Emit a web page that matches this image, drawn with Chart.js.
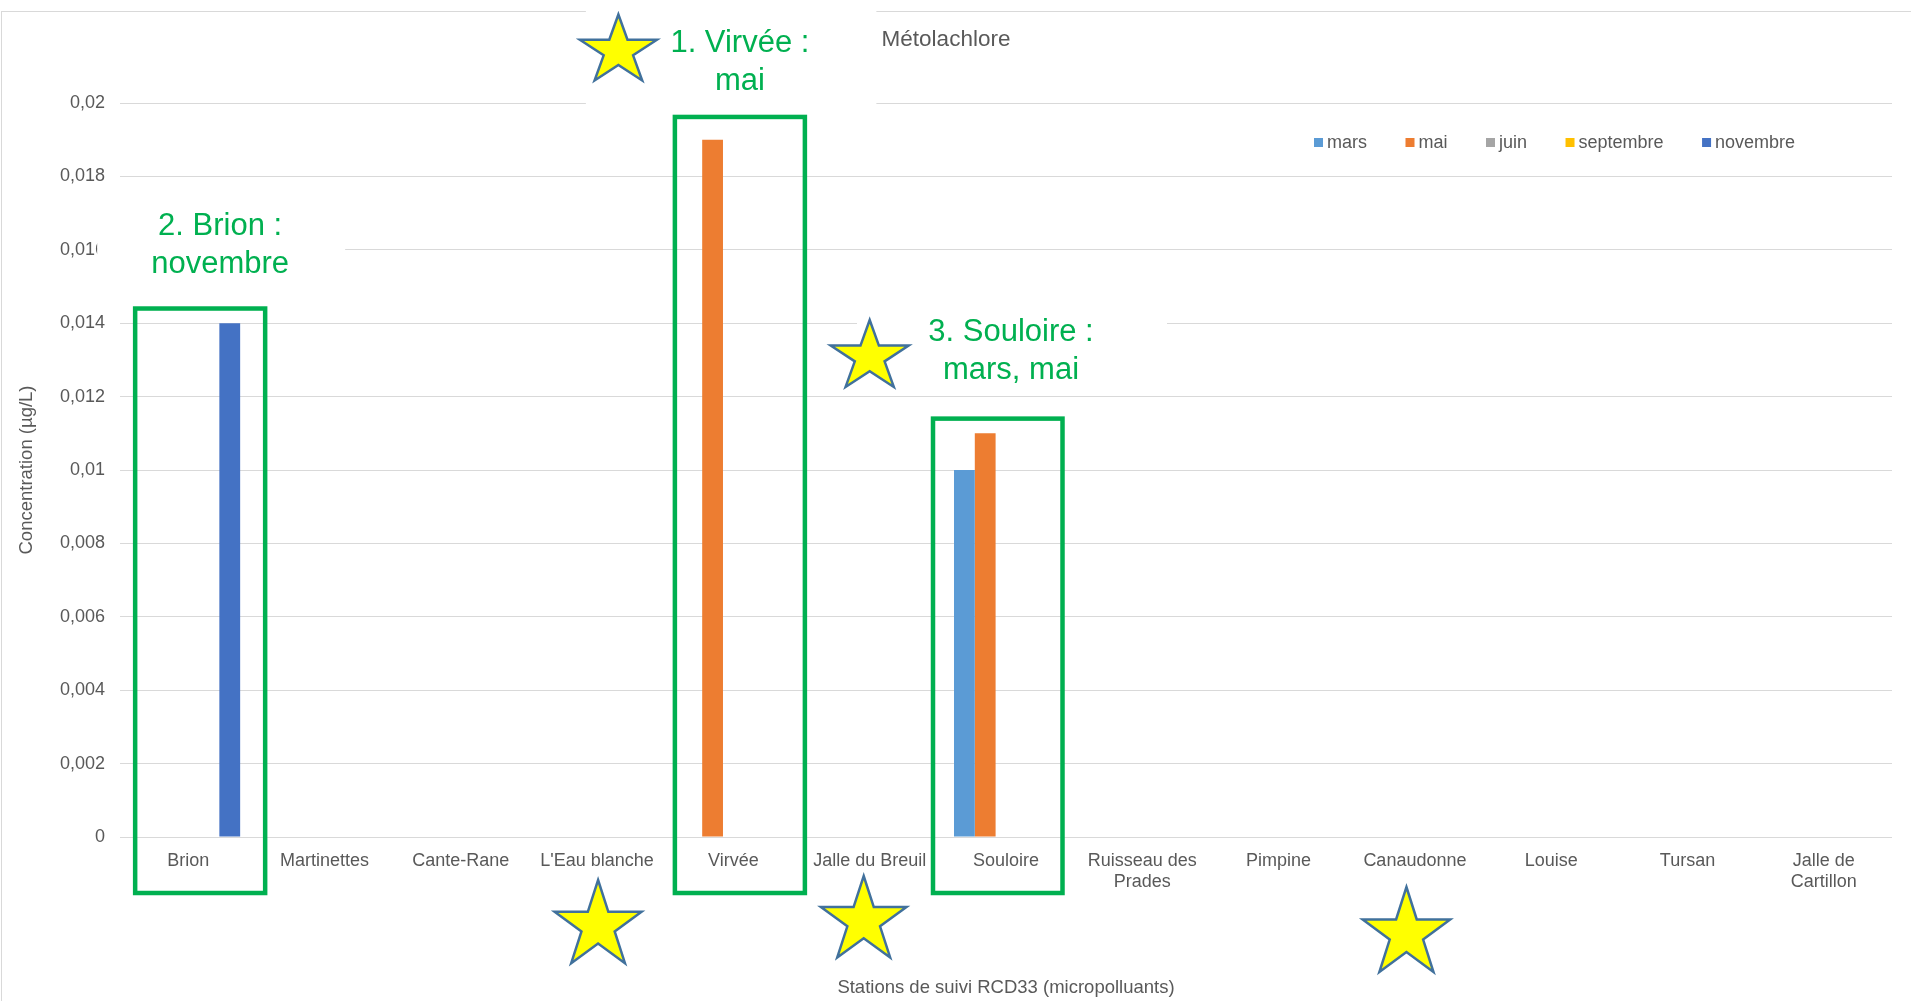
<!DOCTYPE html>
<html>
<head>
<meta charset="utf-8">
<title>Métolachlore</title>
<script src="https://cdn.jsdelivr.net/npm/chart.js@4.4.0/dist/chart.umd.min.js"></script>
<style>
html, body { margin: 0; padding: 0; background: #fff; }
#wrap { width: 1911px; height: 1001px; position: relative; }
</style>
</head>
<body>
<div id="wrap"><canvas id="chartView"></canvas></div>
<script>
// stations (x axis)
var stations = ['Brion', 'Martinettes', 'Cante-Rane', "L'Eau blanche", 'Virvée', 'Jalle du Breuil', 'Souloire',
    ['Ruisseau des', 'Prades'], 'Pimpine', 'Canaudonne', 'Louise', 'Tursan', ['Jalle de', 'Cartillon']];

// concentrations (µg/L), one list per campaign
var mars      = [null, null, null, null, null, null, 0.01, null, null, null, null, null, null];
var mai       = [null, null, null, null, 0.019, null, 0.011, null, null, null, null, null, null];
var juin      = [null, null, null, null, null, null, null, null, null, null, null, null, null];
var septembre = [null, null, null, null, null, null, null, null, null, null, null, null, null];
var novembre  = [0.014, null, null, null, null, null, null, null, null, null, null, null, null];

var seriesNames  = ['mars', 'mai', 'juin', 'septembre', 'novembre'];
var seriesColors = ['#5B9BD5', '#ED7D31', '#A5A5A5', '#FFC000', '#4472C4'];

var yTickLabels = ['0', '0,002', '0,004', '0,006', '0,008', '0,01', '0,012', '0,014', '0,016', '0,018', '0,02'];

var FONT = "'Liberation Sans', Arial, sans-serif";
var GREY = '#595959';
var GREEN = '#00B050';

// annotations drawn over the chart (offsets from the category centre)
var frames = [
    { cat: 0, left: -53, right: 77, top: 0.0144 },
    { cat: 4, left: -58.5, right: 71.5, top: 0.01962 },
    { cat: 6, left: -73, right: 56.5, top: 0.0114 }
];
var notes = [
    { cat: 4, dx: 6.5, y: 43.5, lines: ['1. Virvée :', 'mai'], box: [-147.5, 143, 0, 106] },
    { cat: 0, dx: 32, y: 226.5, lines: ['2. Brion :', 'novembre'], box: [-91, 157, 201, 286] },
    { cat: 6, dx: 5, y: 332.5, lines: ['3. Souloire :', 'mars, mai'], box: [-149, 161, 302, 392] }
];
var stars = [
    { cat: 4, dx: -115, y: 51, rx: 40.5, ry: 36.5 },
    { cat: 5, dx: 0, y: 357, rx: 41, ry: 37 },
    { cat: 3, dx: 1, y: 926, rx: 45.7, ry: 46 },
    { cat: 5, dx: -6, y: 921, rx: 45, ry: 45 },
    { cat: 9, dx: -8.5, y: 934, rx: 46, ry: 47 }
];

function drawStar(ctx, cx, cy, rx, ry) {
    ctx.beginPath();
    for (var i = 0; i < 10; i++) {
        var a = -Math.PI / 2 + i * Math.PI / 5;
        var k = (i % 2 === 0) ? 1 : 0.382;
        var px = cx + rx * k * Math.cos(a);
        var py = cy + ry * k * Math.sin(a);
        if (i === 0) ctx.moveTo(px, py); else ctx.lineTo(px, py);
    }
    ctx.closePath();
    ctx.fillStyle = '#FFFF00';
    ctx.fill();
    ctx.lineWidth = 2.5;
    ctx.strokeStyle = '#41719C';
    ctx.stroke();
}

var decor = {
    id: 'decor',
    beforeDraw: function (chart) {
        var ctx = chart.ctx;
        ctx.save();
        ctx.strokeStyle = '#d9d9d9';
        ctx.lineWidth = 1;
        ctx.strokeRect(1.5, 11.5, chart.width + 20, chart.height + 20);
        ctx.restore();
    },
    afterDraw: function (chart) {
        var ctx = chart.ctx;
        var xs = chart.scales.x, ys = chart.scales.y, area = chart.chartArea;
        ctx.save();

        // legend, top right inside the plot
        ctx.font = '18px ' + FONT;
        ctx.textBaseline = 'middle';
        ctx.textAlign = 'left';
        var lx = area.right - 578, ly = area.top + 40;
        chart.data.datasets.forEach(function (ds) {
            ctx.fillStyle = ds.backgroundColor;
            ctx.fillRect(lx, ly - 5, 9, 9);
            ctx.fillStyle = GREY;
            ctx.fillText(ds.label, lx + 13, ly);
            lx += 13 + ctx.measureText(ds.label).width + 38.5;
        });

        // white backgrounds of the call-outs
        notes.forEach(function (n) {
            var c = xs.getPixelForValue(n.cat);
            ctx.fillStyle = '#ffffff';
            ctx.fillRect(c + n.box[0], n.box[2], n.box[1] - n.box[0], n.box[3] - n.box[2]);
        });

        // green frames
        ctx.strokeStyle = GREEN;
        ctx.lineWidth = 4.5;
        frames.forEach(function (f) {
            var c = xs.getPixelForValue(f.cat);
            var top = ys.getPixelForValue(f.top);
            ctx.strokeRect(c + f.left, top, f.right - f.left, area.bottom + 56 - top);
        });

        // call-out text
        ctx.fillStyle = GREEN;
        ctx.font = '31px ' + FONT;
        ctx.textAlign = 'center';
        notes.forEach(function (n) {
            var c = xs.getPixelForValue(n.cat) + n.dx;
            n.lines.forEach(function (t, i) {
                ctx.fillText(t, c, n.y + i * 38);
            });
        });

        // stars
        stars.forEach(function (s) {
            drawStar(ctx, xs.getPixelForValue(s.cat) + s.dx, s.y, s.rx, s.ry);
        });
        ctx.restore();
    }
};

var series = [mars, mai, juin, septembre, novembre];

function drawChart() {
    var ctx = document.getElementById('chartView').getContext('2d');
    new Chart(ctx, {
        type: 'bar',
        data: {
            labels: stations,
            datasets: series.map(function (d, i) {
                return {
                    label: seriesNames[i],
                    data: d,
                    backgroundColor: seriesColors[i],
                    borderWidth: 0,
                    barPercentage: 1,
                    categoryPercentage: 0.763
                };
            })
        },
        options: {
            responsive: true,
            maintainAspectRatio: false,
            animation: false,
            layout: { padding: { top: 0, left: 0, right: 19, bottom: 0 } },
            plugins: {
                legend: { display: false },
                tooltip: { enabled: false },
                title: {
                    display: true,
                    text: 'Métolachlore',
                    color: GREY,
                    font: { family: FONT, size: 22.5, weight: 'normal' },
                    padding: { top: 26, bottom: 50 }
                }
            },
            scales: {
                x: {
                    grid: { display: false },
                    border: { display: false },
                    ticks: {
                        color: GREY,
                        font: { family: FONT, size: 18 },
                        padding: 5,
                        autoSkip: false,
                        maxRotation: 0
                    },
                    title: {
                        display: true,
                        text: 'Stations de suivi RCD33 (micropolluants)',
                        color: GREY,
                        font: { family: FONT, size: 18.5 },
                        padding: { top: 0, bottom: 1.5 }
                    },
                    afterFit: function (scale) { scale.height = 164; }
                },
                y: {
                    min: 0,
                    max: 0.02,
                    grid: { color: '#d9d9d9', drawTicks: false },
                    border: { display: false },
                    ticks: {
                        stepSize: 0.002,
                        color: GREY,
                        font: { family: FONT, size: 18 },
                        padding: 15,
                        callback: function (value, index) {
                            return yTickLabels[index] !== undefined ? yTickLabels[index] : String(value).replace('.', ',');
                        }
                    },
                    title: {
                        display: true,
                        text: 'Concentration (µg/L)',
                        color: GREY,
                        font: { family: FONT, size: 18.5 },
                        padding: { top: 16, bottom: 0 }
                    },
                    afterFit: function (scale) { scale.width = 120; }
                }
            }
        },
        plugins: [decor]
    });
}

drawChart();
</script>
</body>
</html>
